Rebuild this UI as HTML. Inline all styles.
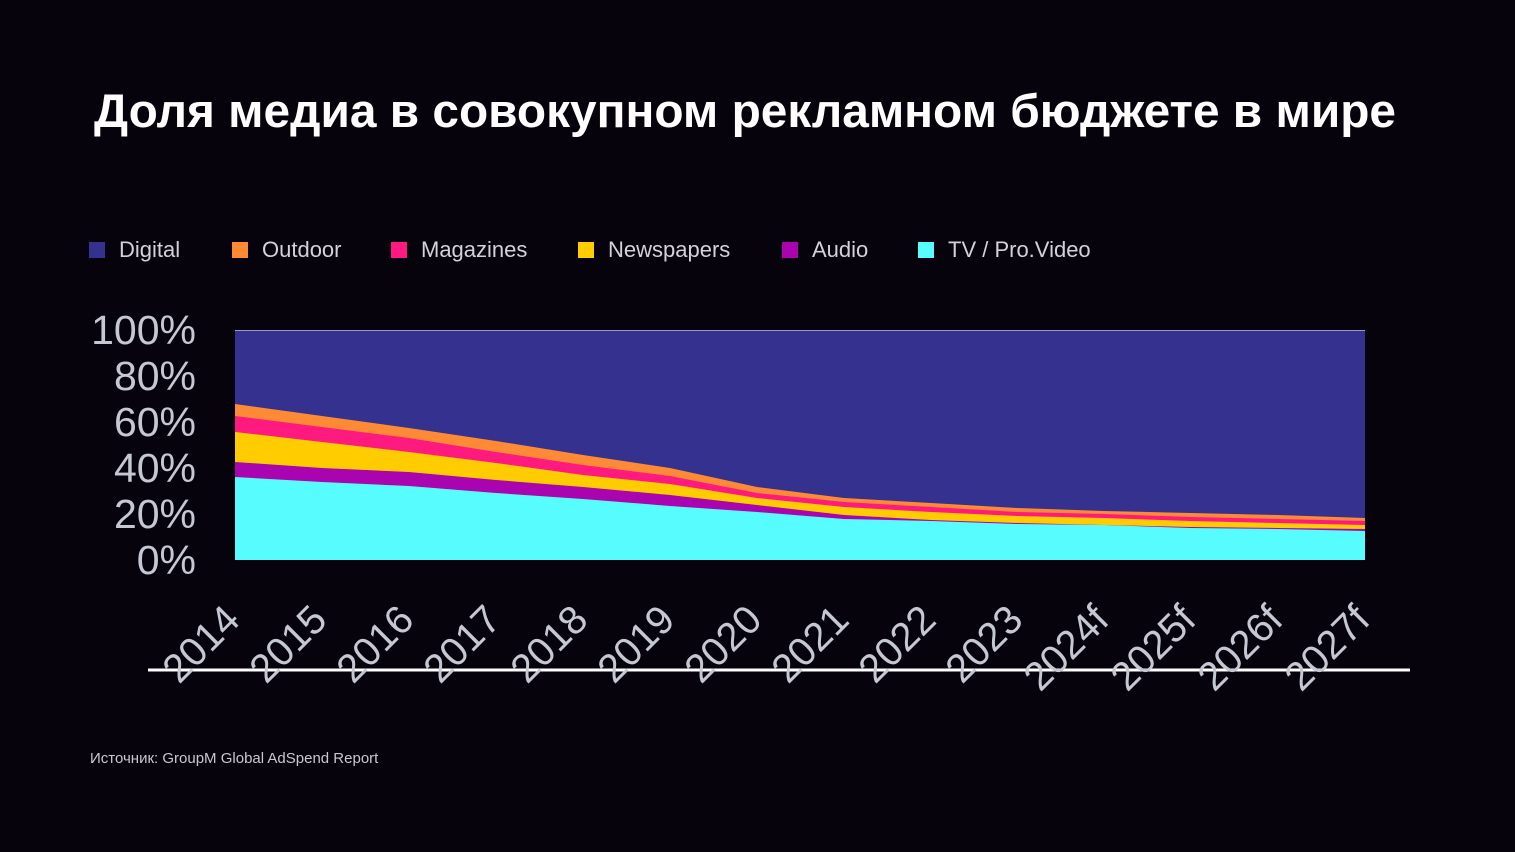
<!DOCTYPE html>
<html><head><meta charset="utf-8"><style>
html,body{margin:0;padding:0;background:#07030d;}
svg{display:block;}
</style></head><body>
<svg width="1515" height="852" viewBox="0 0 1515 852" xmlns="http://www.w3.org/2000/svg" font-family="'Liberation Sans', sans-serif">
<rect width="1515" height="852" fill="#07030d"/>
<text x="94" y="127" font-size="47" font-weight="bold" fill="#ffffff" textLength="1302" lengthAdjust="spacingAndGlyphs">Доля медиа в совокупном рекламном бюджете в мире</text>
<g font-size="22" fill="#d2d2da">
<rect x="89" y="242" width="16" height="16" fill="#34318f"/><text x="119" y="257">Digital</text>
<rect x="232" y="242" width="16" height="16" fill="#ff8a35"/><text x="262" y="257">Outdoor</text>
<rect x="391" y="242" width="16" height="16" fill="#fe1a7e"/><text x="421" y="257">Magazines</text>
<rect x="578" y="242" width="16" height="16" fill="#ffcc00"/><text x="608" y="257">Newspapers</text>
<rect x="782" y="242" width="16" height="16" fill="#aa03b0"/><text x="812" y="257">Audio</text>
<rect x="918" y="242" width="16" height="16" fill="#56fcff"/><text x="948" y="257">TV / Pro.Video</text>
</g>
<rect x="235" y="330" width="1130" height="230" fill="#34318f"/>
<line x1="235" y1="330.5" x2="1365" y2="330.5" stroke="#9a98c8" stroke-width="1"/>
<polygon fill="#ff8a35" points="235,404 322,416 409,428 496,441 583,455 670,468 757,487 844,498 931,503 1018,508 1104,511 1191,513 1278,515 1365,518 1365,560 235,560"/>
<polygon fill="#fe1a7e" points="235,416 322,427 409,438 496,452 583,465 670,476 757,493 844,502 931,507 1018,512 1104,514 1191,517 1278,519 1365,521 1365,560 235,560"/>
<polygon fill="#ffcc00" points="235,432 322,442 409,452 496,463 583,475 670,484 757,498 844,507 931,512 1018,516 1104,518 1191,521 1278,523 1365,525 1365,560 235,560"/>
<polygon fill="#aa03b0" points="235,462 322,468 409,472 496,480 583,487 670,495 757,505 844,515 931,520 1018,523 1104,525 1191,527 1278,528 1365,529 1365,560 235,560"/>
<polygon fill="#56fcff" points="235,477 322,482 409,486 496,493 583,499 670,506 757,512 844,519 931,521 1018,524 1104,525 1191,528 1278,529 1365,531 1365,560 235,560"/>
<g font-size="41" fill="#c5c8d2" text-anchor="end">
<text x="196" y="344">100%</text>
<text x="196" y="390">80%</text>
<text x="196" y="436">60%</text>
<text x="196" y="482">40%</text>
<text x="196" y="528">20%</text>
<text x="196" y="574">0%</text>
</g>
<line x1="148" y1="670" x2="1410" y2="670" stroke="#ffffff" stroke-width="3"/>
<g font-size="40" fill="#c5c8d2" text-anchor="end">
<text transform="translate(242,622) rotate(-45)">2014</text>
<text transform="translate(329,622) rotate(-45)">2015</text>
<text transform="translate(416,622) rotate(-45)">2016</text>
<text transform="translate(503,622) rotate(-45)">2017</text>
<text transform="translate(590,622) rotate(-45)">2018</text>
<text transform="translate(677,622) rotate(-45)">2019</text>
<text transform="translate(764,622) rotate(-45)">2020</text>
<text transform="translate(851,622) rotate(-45)">2021</text>
<text transform="translate(938,622) rotate(-45)">2022</text>
<text transform="translate(1025,622) rotate(-45)">2023</text>
<text transform="translate(1111,622) rotate(-45)">2024f</text>
<text transform="translate(1198,622) rotate(-45)">2025f</text>
<text transform="translate(1285,622) rotate(-45)">2026f</text>
<text transform="translate(1372,622) rotate(-45)">2027f</text>
</g>
<text x="90" y="763" font-size="15" fill="#c8c8d0">Источник: GroupM Global AdSpend Report</text>
</svg>
</body></html>
